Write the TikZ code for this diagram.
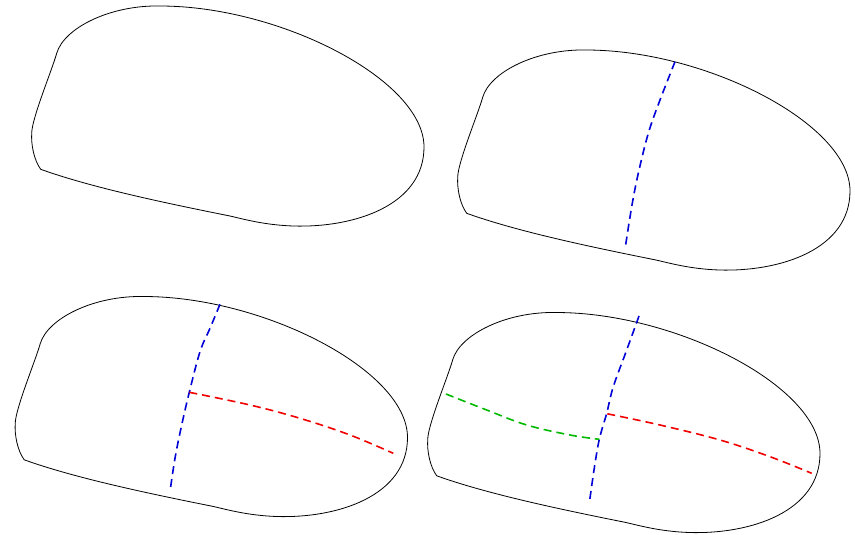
\documentclass[tikz,border=0pt]{standalone}
\begin{document}
\begin{tikzpicture}[x=1pt,y=-1pt,
  blobline/.style={black,line width=0.8pt,line join=round},
  cutline/.style={line width=1.6pt,dash pattern=on 8pt off 5pt},
  cutblue/.style={cutline,draw={rgb,255:red,0;green,0;blue,215}},
  cutred/.style={cutline,draw={rgb,255:red,240;green,0;blue,0}},
  cutgreen/.style={cutline,draw={rgb,255:red,0;green,185;blue,0}},
  pics/blob/.style={code={
    \draw[blobline] (40.7,169.3)
      .. controls (34,160) and (31,145) .. (31.7,133)
      .. controls (32,118) and (52,70) .. (56.7,53.3)
      .. controls (64,28) and (110,5) .. (160,6)
      .. controls (280,6) and (424,80) .. (424,147)
      .. controls (424,205) and (355,228) .. (293,226)
      .. controls (265,225) and (245,219.5) .. (230,216)
      .. controls (160,202) and (90,187) .. (40.7,169.3) -- cycle;
  }}]
\useasboundingbox (0,0) rectangle (855,535);
% four blobs
\pic at (0,0) {blob};
\pic at (426,44) {blob};
\pic at (-16.5,290.5) {blob};
\pic at (396,306.5) {blob};
% top-right: blue cut
\draw[cutblue] plot[smooth,tension=0.6] coordinates {(675,61.7) (660,100) (648.3,133.3) (638.3,173.3) (631.7,206.7) (625,249.3)};
% bottom-left
\coordinate (jBL) at (189.3,392.3);
\draw[cutblue] plot[smooth,tension=0.6] coordinates {(220,304.3) (210,328.3) (200,351.7) (189.3,392.3) (181.7,425) (175,458.3) (170,491.7)};
\draw[cutred] plot[smooth,tension=0.6] coordinates {(jBL) (250,405) (300,418.3) (350,435) (393.3,453.3)};
% bottom-right
\coordinate (jR) at (607.3,413.8);
\coordinate (jG) at (599.3,439.3);
\draw[cutblue] plot[smooth,tension=0.6] coordinates {(639,316) (626.7,350) (613.3,386.7) (606.7,413.3) (599.3,439.3) (594,470) (589.3,503.3)};
\draw[cutred] plot[smooth,tension=0.6] coordinates {(jR) (660,425) (720,440) (770,456.7) (811.7,473.3)};
\draw[cutgreen] plot[smooth,tension=0.6] coordinates {(446,394) (486.7,410) (526.7,425) (570,435) (jG)};
\end{tikzpicture}
\end{document}
